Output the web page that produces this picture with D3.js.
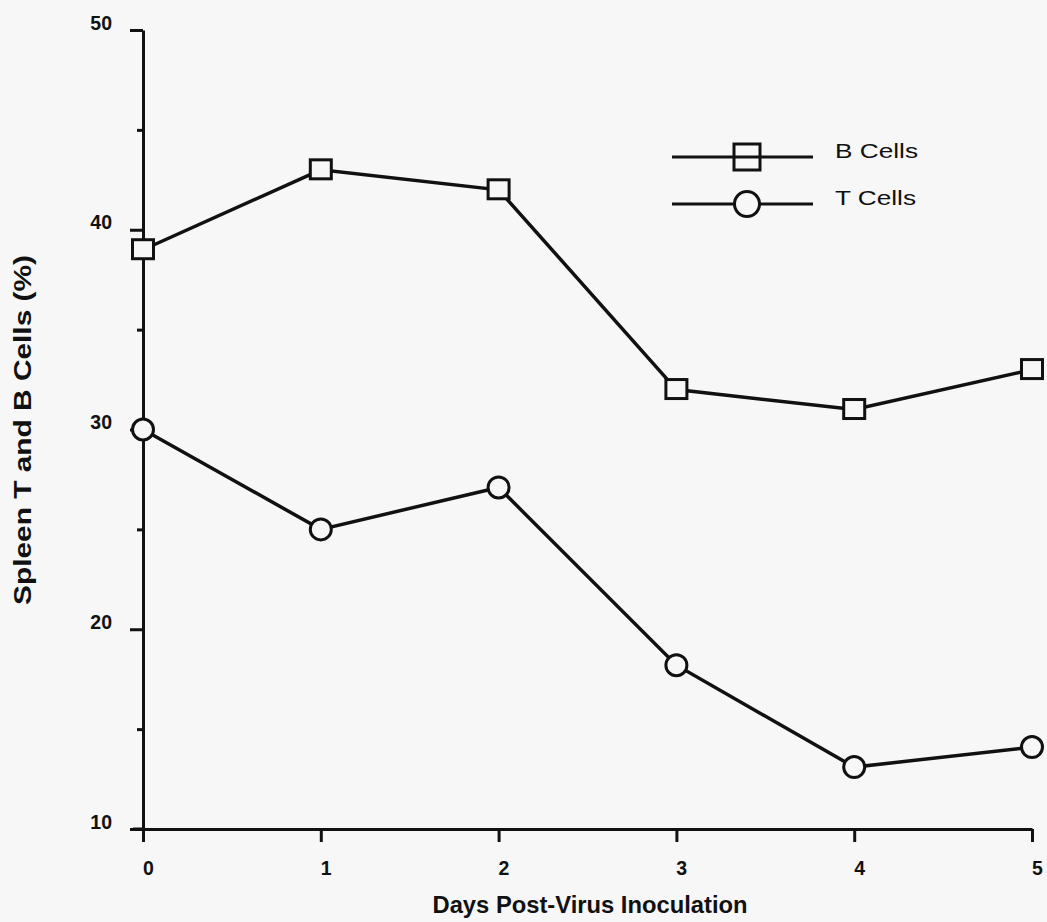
<!DOCTYPE html>
<html><head><meta charset="utf-8">
<script src="https://cdn.jsdelivr.net/npm/d3@7"></script>
<style>
html,body{margin:0;padding:0;background:#f7f7f7;}
svg{display:block;}
text{font-family:"Liberation Sans",Arial,Helvetica,sans-serif;fill:#111;}
</style></head><body>
<svg id="c" width="1047" height="922"></svg>
<script>
const days = [0, 1, 2, 3, 4, 5];
const bCells = [39, 43, 42, 32, 31, 33];
const tCells = [30, 25, 27.1, 18.2, 13.1, 14.1];
const seriesNames = ["B Cells", "T Cells"];
const yMajorTicks = [10, 20, 30, 40, 50];
const yMinorTicks = [15, 25, 35, 45];
const xTicks = [0, 1, 2, 3, 4, 5];

const svg = d3.select("#c");
const x = d3.scaleLinear().domain([0, 5]).range([143, 1032]);
const y = d3.scaleLinear().domain([10, 50]).range([829, 30]);
const ink = "#111";
const bg = "#f7f7f7";

// Y axis
const gy = svg.append("g").attr("transform", "translate(143,0)")
  .call(d3.axisLeft(y).tickValues(yMajorTicks).tickSize(13).tickSizeOuter(0).tickPadding(18).tickFormat(d3.format("d")));
gy.selectAll(".tick text").attr("font-size", 19.5).attr("font-weight", "bold")
  .attr("font-family", "Liberation Sans, Arial, sans-serif").attr("fill", ink)
  .attr("text-anchor", "end").attr("dy", "-0.05em");
gy.select(".domain").attr("stroke", ink).attr("stroke-width", 3);
gy.selectAll(".tick line").attr("stroke", ink).attr("stroke-width", 3);
const gy2 = svg.append("g").attr("transform", "translate(143,0)")
  .call(d3.axisLeft(y).tickValues(yMinorTicks).tickSize(6).tickSizeOuter(0).tickFormat(""));
gy2.select(".domain").remove();
gy2.selectAll(".tick line").attr("stroke", ink).attr("stroke-width", 3);

// X axis
const gx = svg.append("g").attr("transform", "translate(0,829)")
  .call(d3.axisBottom(x).tickValues(xTicks).tickSize(13).tickSizeOuter(0).tickPadding(19).tickFormat(d3.format("d")));
gx.selectAll(".tick text").attr("font-size", 19.5).attr("font-weight", "bold")
  .attr("font-family", "Liberation Sans, Arial, sans-serif").attr("fill", ink).attr("dx", "0.25em");
gx.select(".domain").attr("stroke", ink).attr("stroke-width", 3);
gx.selectAll(".tick line").attr("stroke", ink).attr("stroke-width", 3);
svg.append("line").attr("x1", 133).attr("x2", 143).attr("y1", y(10)).attr("y2", y(10)).attr("stroke", ink).attr("stroke-width", 3);

// Axis titles
svg.append("text").attr("x", 590).attr("y", 913).attr("text-anchor", "middle")
  .attr("font-size", 23).attr("font-weight", "bold")
  .attr("textLength", 315).attr("lengthAdjust", "spacingAndGlyphs")
  .text("Days Post-Virus Inoculation");
svg.append("text").attr("transform", "translate(31,430) rotate(-90)").attr("text-anchor", "middle")
  .attr("font-size", 24).attr("font-weight", "bold")
  .attr("textLength", 350).attr("lengthAdjust", "spacingAndGlyphs")
  .text("Spleen T and B Cells (%)");

const line = d3.line().x((d, i) => x(days[i])).y(d => y(d));
svg.append("path").datum(bCells).attr("d", line).attr("fill", "none").attr("stroke", ink).attr("stroke-width", 3.5);
svg.append("path").datum(tCells).attr("d", line).attr("fill", "none").attr("stroke", ink).attr("stroke-width", 3.5);

svg.selectAll("rect.b").data(bCells).join("rect").attr("class", "b")
  .attr("x", (d, i) => x(days[i]) - 10.5).attr("y", d => y(d) - 10).attr("width", 21).attr("height", 19)
  .attr("fill", bg).attr("stroke", ink).attr("stroke-width", 3);
svg.selectAll("circle.t").data(tCells).join("circle").attr("class", "t")
  .attr("cx", (d, i) => x(days[i])).attr("cy", d => y(d)).attr("r", 10.5)
  .attr("fill", bg).attr("stroke", ink).attr("stroke-width", 3);

// Legend
const lg = svg.append("g");
const ly = [157, 204];
const lw = [83, 81];
seriesNames.forEach((name, i) => {
  lg.append("line").attr("x1", 672).attr("x2", 813).attr("y1", ly[i]).attr("y2", ly[i]).attr("stroke", ink).attr("stroke-width", 3);
  if (i === 0) {
    lg.append("rect").attr("x", 734).attr("y", ly[i] - 13).attr("width", 26).attr("height", 26)
      .attr("fill", bg).attr("stroke", ink).attr("stroke-width", 3);
    lg.append("line").attr("x1", 734).attr("x2", 760).attr("y1", ly[i]).attr("y2", ly[i]).attr("stroke", ink).attr("stroke-width", 3);
  } else {
    lg.append("circle").attr("cx", 747).attr("cy", ly[i]).attr("r", 12.5)
      .attr("fill", bg).attr("stroke", ink).attr("stroke-width", 3);
  }
  lg.append("text").attr("x", 835).attr("y", ly[i] + 1).attr("font-size", 21)
    .attr("textLength", lw[i]).attr("lengthAdjust", "spacingAndGlyphs").text(name);
});
</script>
</body></html>
